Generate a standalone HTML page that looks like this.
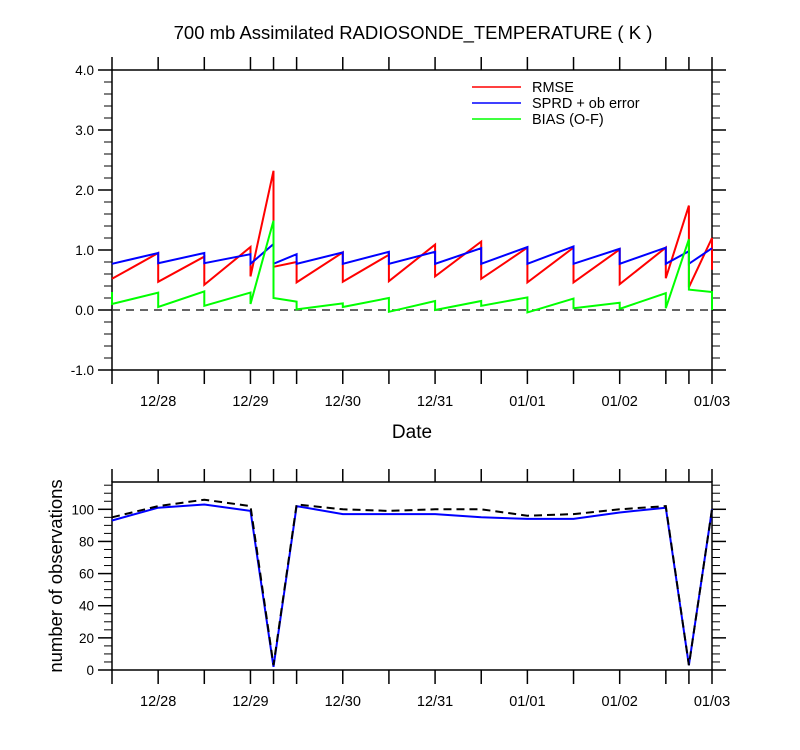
<!DOCTYPE html>
<html><head><meta charset="utf-8"><style>
html,body{margin:0;padding:0;background:#fff;}
svg{display:block;font-family:"Liberation Sans",Arial,sans-serif;}
</style></head><body>
<svg id="chart" width="800" height="750" viewBox="0 0 800 750" xmlns="http://www.w3.org/2000/svg">
<text x="413" y="39" font-size="18.5" text-anchor="middle">700 mb Assimilated RADIOSONDE_TEMPERATURE ( K )</text>
<text x="412" y="438" font-size="19" text-anchor="middle">Date</text>
<text transform="translate(62,576) rotate(-90)" font-size="18.5" text-anchor="middle">number of observations</text>
<g id="topPanel"></g>
<g id="botPanel"></g>
<g>
<line x1="472" y1="87" x2="521" y2="87" stroke="#ff0000" stroke-width="1.5"/>
<text x="532" y="92" font-size="14.5">RMSE</text>
<line x1="472" y1="103" x2="521" y2="103" stroke="#0000ff" stroke-width="1.5"/>
<text x="532" y="108" font-size="14.5">SPRD + ob error</text>
<line x1="472" y1="119" x2="521" y2="119" stroke="#00ff00" stroke-width="1.5"/>
<text x="532" y="124" font-size="14.5">BIAS (O-F)</text>
</g>
</svg>
<script>
// hours since 12/27 12Z; duplicated hour = vertical jump (prior -> posterior)
const rmseHours = [0,12,12,24,24,36,36,42,42,48,48,60,60,72,72,84,84,96,96,108,108,120,120,132,132,144,144,150,150,156,156];
const rmseValues = [0.52,0.95,0.47,0.89,0.42,1.05,0.56,2.32,0.72,0.8,0.46,0.96,0.47,0.92,0.48,1.09,0.56,1.14,0.52,1.04,0.46,1.04,0.46,1.01,0.43,1.04,0.53,1.74,0.38,1.2,0.67];
const sprdHours = [0,12,12,24,24,36,36,42,42,48,48,60,60,72,72,84,84,96,96,108,108,120,120,132,132,144,144,150,150,156];
const sprdValues = [0.77,0.95,0.78,0.95,0.78,0.93,0.77,1.1,0.77,0.93,0.77,0.96,0.77,0.97,0.77,0.97,0.77,1.03,0.77,1.05,0.77,1.06,0.77,1.02,0.77,1.04,0.77,0.98,0.77,1.03];
const biasHours = [0,0,12,12,24,24,36,36,42,42,48,48,60,60,72,72,84,84,96,96,108,108,120,120,132,132,144,144,150,150,156,156];
const biasValues = [0.3,0.1,0.29,0.05,0.31,0.07,0.29,0.1,1.49,0.2,0.14,0.01,0.11,0.05,0.2,-0.03,0.15,0.0,0.15,0.07,0.21,-0.04,0.19,0.03,0.12,0.02,0.28,0.03,1.18,0.34,0.3,0.0];
const obsHours = [0,12,24,36,42,48,60,72,84,96,108,120,132,144,150,156];
const obsUsed = [93,101,103,99,2,102,97,97,97,95,94,94,98,101,3,100];
const obsTotal = [95,102,106,102,3,103,100,99,100,100,96,97,100,102,3,100];
const dateLabels = ['12/28','12/29','12/30','12/31','01/01','01/02','01/03'];
const dateHours = [12,36,60,84,108,132,156];
const tickHours = [0,12,24,36,42,48,60,72,84,96,108,120,132,144,150,156];
const topYTicks = [-1,0,1,2,3,4];
const botYTicks = [0,20,40,60,80,100];

const NS='http://www.w3.org/2000/svg';
const L=112,R=712;
const xs=h=>L+h*(R-L)/156;
const ty=v=>310-v*60;
const by=v=>670-v*1.607;
function mk(parent,tag,attrs){const e=document.createElementNS(NS,tag);for(const k in attrs)e.setAttribute(k,attrs[k]);parent.appendChild(e);return e;}
const topG=document.getElementById('topPanel'), botG=document.getElementById('botPanel');

function frame(g,y0,y1,yfun,ticks,minorStep,vmin,vmax,fmt){
  const f=mk(g,'rect',{x:L,y:y0,width:R-L,height:y1-y0,fill:'none',stroke:'#000','stroke-width':1.5});
  
  
  tickHours.forEach(h=>{
    const t1=mk(g,'line',{x1:xs(h),x2:xs(h),y1:y0,y2:y0-13,stroke:'#000','stroke-width':1.5});
    
    
    const t2=mk(g,'line',{x1:xs(h),x2:xs(h),y1:y1,y2:y1+14,stroke:'#000','stroke-width':1.5});
    
    
  });
  dateHours.forEach((h,i)=>{
    const t=mk(g,'text',{x:xs(h),y:y1+36,'font-size':14.5,'text-anchor':'middle'});
    t.textContent=dateLabels[i];
    
    
  });
  for(let v=vmin;v<=vmax+1e-9;v+=minorStep){
    const major=ticks.some(t=>Math.abs(t-v)<1e-6);
    const len=major?14:8;
    [[L,-1],[R,1]].forEach(([x,d])=>{
      const m=mk(g,'line',{x1:x,x2:x+d*len,y1:yfun(v),y2:yfun(v),stroke:'#000','stroke-width':major?1.5:1});
      
      
    });
  }
  ticks.forEach(v=>{
    const t=mk(g,'text',{x:L-18,y:yfun(v)+5,'font-size':13.5,'text-anchor':'end'});
    t.textContent=fmt(v);
    
    
  });
}
frame(topG,70,370,ty,topYTicks,0.2,-1,4,v=>v.toFixed(1));
frame(botG,482,670,by,botYTicks,5,0,115,v=>String(v));

const zl=mk(topG,'line',{x1:L,x2:R,y1:ty(0),y2:ty(0),stroke:'#333','stroke-width':1.5,'stroke-dasharray':'8,6'});



function series(g,hours,vals,yfun,color,name,dash){
  const d=hours.map((h,i)=>(i?'L':'M')+xs(h).toFixed(1)+','+yfun(vals[i]).toFixed(1)).join(' ');
  const p=mk(g,'path',{d:d,fill:'none',stroke:color,'stroke-width':2});
  if(dash)p.setAttribute('stroke-dasharray',dash);
  
  
}
series(topG,rmseHours,rmseValues,ty,'#ff0000','rmse-line');
series(topG,sprdHours,sprdValues,ty,'#0000ff','sprd-line');
series(topG,biasHours,biasValues,ty,'#00ff00','bias-line');
series(botG,obsHours,obsUsed,by,'#0000ff','obs-used-line');
series(botG,obsHours,obsTotal,by,'#000000','obs-total-line','8,5');
</script>
</body></html>
